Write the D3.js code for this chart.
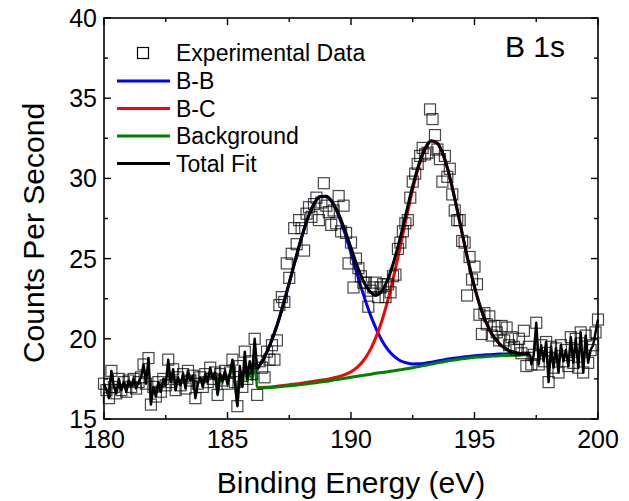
<!DOCTYPE html>
<html>
<head>
<meta charset="utf-8">
<script src="https://cdn.jsdelivr.net/npm/d3@7"></script>
<style>
  body { margin: 0; background: #fff; }
  text { font-family: Arial, "Liberation Sans", sans-serif; fill: #000; }
</style>
</head>
<body>
<svg id="chart" width="629" height="501"></svg>
<script>
// ---------- data ----------
const expE = [
  180.0,180.1,180.2,180.3,180.4,180.5,180.6,180.7,180.8,180.9,
  181.0,181.1,181.2,181.3,181.4,181.5,181.6,181.7,181.8,181.9,
  182.0,182.1,182.2,182.3,182.4,182.5,182.6,182.7,182.8,182.9,
  183.0,183.1,183.2,183.3,183.4,183.5,183.6,183.7,183.8,183.9,
  184.0,184.1,184.2,184.3,184.4,184.5,184.6,184.7,184.8,184.9,
  185.0,185.1,185.2,185.3,185.4,185.5,185.6,185.7,185.8,185.9,
  186.0,186.1,186.2,186.3,186.4,186.5,186.6,186.7,186.8,186.9,
  187.0,187.1,187.2,187.3,187.4,187.5,187.6,187.7,187.8,187.9,
  188.0,188.1,188.2,188.3,188.4,188.5,188.6,188.7,188.8,188.9,
  189.0,189.1,189.2,189.3,189.4,189.5,189.6,189.7,189.8,189.9,
  190.0,190.1,190.2,190.3,190.4,190.5,190.6,190.7,190.8,190.9,
  191.0,191.1,191.2,191.3,191.4,191.5,191.6,191.7,191.8,191.9,
  192.0,192.1,192.2,192.3,192.4,192.5,192.6,192.7,192.8,192.9,
  193.0,193.1,193.2,193.3,193.4,193.5,193.6,193.7,193.8,193.9,
  194.0,194.1,194.2,194.3,194.4,194.5,194.6,194.7,194.8,194.9,
  195.0,195.1,195.2,195.3,195.4,195.5,195.6,195.7,195.8,195.9,
  196.0,196.1,196.2,196.3,196.4,196.5,196.6,196.7,196.8,196.9,
  197.0,197.1,197.2,197.3,197.4,197.5,197.6,197.7,197.8,197.9,
  198.0,198.1,198.2,198.3,198.4,198.5,198.6,198.7,198.8,198.9,
  199.0,199.1,199.2,199.3,199.4,199.5,199.6,199.7,199.8,199.9,
  200.0
];
const expCounts = [
  17.2,16.8,16.3,18.0,17.0,16.6,17.5,16.8,17.3,16.7,
  17.4,17.0,17.5,16.9,17.3,17.6,18.4,17.2,18.8,15.9,
  17.0,16.4,17.3,16.7,17.5,17.1,18.7,17.3,18.1,16.8,
  17.6,17.1,17.8,16.9,18.0,17.4,17.7,16.3,17.2,17.6,
  17.0,17.8,17.3,18.2,17.5,17.9,16.5,17.8,17.4,18.0,
  17.2,17.9,18.7,17.3,15.8,18.3,17.0,19.2,17.5,18.6,
  17.8,20.0,16.5,18.6,18.2,17.6,19.2,18.7,19.6,18.7,
  19.9,22.1,22.6,22.3,24.7,23.8,25.3,26.9,25.9,27.4,
  26.9,25.5,27.8,28.2,27.6,28.4,28.8,27.4,28.5,29.7,
  28.3,27.9,27.1,28.0,27.2,28.9,26.7,28.3,26.6,24.7,
  26.0,23.2,25.0,24.4,23.9,23.5,23.5,22.0,23.0,23.2,
  23.5,22.6,23.2,23.4,22.6,23.4,22.9,23.9,24.0,25.6,
  26.0,26.7,27.2,27.4,28.8,29.8,30.3,30.9,31.4,31.9,
  31.5,31.6,34.3,33.7,32.7,31.8,31.2,29.8,31.4,30.1,
  30.6,29.0,28.0,27.4,27.4,26.1,26.0,22.7,25.1,23.7,
  24.5,23.4,21.5,20.3,21.6,20.9,21.4,20.2,20.8,20.4,
  19.9,20.8,19.9,20.7,19.6,20.1,19.5,19.3,20.0,19.1,
  20.5,18.3,19.5,18.4,19.0,21.0,18.4,19.6,18.6,19.8,
  17.3,19.5,18.2,19.4,17.9,19.6,18.6,19.3,18.3,20.1,
  18.5,20.0,18.2,20.4,17.9,20.2,18.5,19.3,19.6,20.4,
  21.2
];

// fitted curves
const fitE = [
  186.2,186.5,186.75,187.0,187.25,187.5,187.75,188.0,188.25,188.5,
  188.75,189.0,189.25,189.5,189.75,190.0,190.25,190.5,190.75,191.0,
  191.25,191.5,191.75,192.0,192.25,192.5,192.75,193.0,193.25,193.5,
  193.75,194.0,194.25,194.5,194.75,195.0,195.25,195.5,195.75,196.0,
  196.25,196.5,196.75,197.0,197.25
];
const bgFit = [
  16.93,16.95,16.97,17.00,17.04,17.08,17.11,17.15,17.20,17.25,
  17.30,17.35,17.42,17.48,17.54,17.60,17.66,17.72,17.78,17.85,
  17.90,17.95,18.01,18.07,18.13,18.20,18.27,18.35,18.42,18.50,
  18.57,18.65,18.70,18.75,18.80,18.85,18.87,18.90,18.92,18.95,
  18.96,18.97,18.98,19.00,19.00
];
const bbFit = [
  18.11,18.88,19.74,20.81,22.09,23.49,24.94,26.32,27.52,28.40,
  28.86,28.87,28.47,27.68,26.60,25.35,24.04,22.77,21.64,20.68,
  19.90,19.31,18.90,18.63,18.50,18.43,18.44,18.48,18.54,18.61,
  18.68,18.75,18.80,18.85,18.90,18.95,18.97,19.00,19.02,19.05,
  19.06,19.07,19.08,19.10,19.10
];
const bcFit = [
  16.95,16.98,17.00,17.04,17.09,17.14,17.18,17.23,17.29,17.35,
  17.41,17.47,17.55,17.64,17.77,17.95,18.22,18.63,19.23,20.06,
  21.13,22.46,24.05,25.80,27.61,29.33,30.78,31.82,32.32,32.18,
  31.39,30.08,28.40,26.58,24.81,23.24,21.92,20.92,20.19,19.71,
  19.39,19.20,19.10,19.06,19.03
];
const totalFit = [
  18.11,18.88,19.74,20.81,22.09,23.49,24.94,26.32,27.52,28.40,
  28.87,28.89,28.52,27.77,26.78,25.67,24.55,23.60,22.98,22.72,
  22.98,23.75,24.90,26.34,27.95,29.53,30.89,31.88,32.35,32.19,
  31.39,30.08,28.40,26.58,24.81,23.24,21.92,20.92,20.19,19.71,
  19.39,19.20,19.10,19.06,19.03
];

// background trace before the fit window
const bgNoiseE = [184.4,184.5,184.6,184.7,184.8,184.9,185.0,185.1,185.2,185.3,
                  185.4,185.5,185.6,185.7,185.8,185.9,186.0,186.1];
const bgNoise  = [17.5,17.7,16.5,17.6,17.3,17.8,17.2,17.7,18.2,17.2,
                  15.8,17.8,17.0,18.3,17.3,18.0,17.4,18.5];

const xTicks = [180, 185, 190, 195, 200];
const xMinor = [182.5, 187.5, 192.5, 197.5];
const yTicks = [15, 20, 25, 30, 35, 40];
const yMinor = [17.5, 22.5, 27.5, 32.5, 37.5];

const legendItems = [
  {label: "B-B", color: "#0000ff"},
  {label: "B-C", color: "#ff0000"},
  {label: "Background", color: "#008000"},
  {label: "Total Fit", color: "#000000"}
];

// ---------- layout ----------
const L = 104, R = 598, T = 18, B = 419;
const svg = d3.select("#chart");

const x = d3.scaleLinear().domain([180, 200]).range([L, R]);
const y = d3.scaleLinear().domain([15, 40]).range([B, T]);

const pts = (xs, ys) => xs.map((v, i) => [v, ys[i]]);
const line = d3.line().x(d => x(d[0])).y(d => y(d[1]));
const smooth = d3.line().x(d => x(d[0])).y(d => y(d[1])).curve(d3.curveMonotoneX);

const plot = svg.append("g");

// component peaks first, background drawn over them
plot.append("path").attr("d", smooth(pts(fitE, bbFit)))
  .attr("fill", "none").attr("stroke", "#0000ff").attr("stroke-width", 3);
plot.append("path").attr("d", smooth(pts(fitE, bcFit)))
  .attr("fill", "none").attr("stroke", "#ff0000").attr("stroke-width", 3);

const bgPts = pts(bgNoiseE, bgNoise).concat(pts(fitE, bgFit));
plot.append("path").attr("d", line(bgPts.slice(0, bgNoiseE.length + 1)))
  .attr("fill", "none").attr("stroke", "#008000").attr("stroke-width", 2.5);
plot.append("path").attr("d", smooth(pts(fitE, bgFit)))
  .attr("fill", "none").attr("stroke", "#008000").attr("stroke-width", 3);

// total fit: data traces outside the window, fitted curve inside
const allExp = pts(expE, expCounts);
const leftTrace = allExp.filter(d => d[0] <= 186.1).concat([[fitE[0], totalFit[0]]]);
const rightTrace = [[fitE[fitE.length - 1], totalFit[totalFit.length - 1]]]
  .concat(allExp.filter(d => d[0] >= 197.3));

[leftTrace, rightTrace].forEach(tr => {
  plot.append("path").attr("d", line(tr))
    .attr("fill", "none").attr("stroke", "#000").attr("stroke-width", 2.5)
    .attr("stroke-linejoin", "round");
});
plot.append("path").attr("d", smooth(pts(fitE, totalFit)))
  .attr("fill", "none").attr("stroke", "#000").attr("stroke-width", 3);

// experimental squares
const sq = 11;
plot.selectAll("rect.pt").data(allExp).enter().append("rect")
  .attr("class", "pt")
  .attr("x", d => x(d[0]) - sq / 2).attr("y", d => y(d[1]) - sq / 2)
  .attr("width", sq).attr("height", sq)
  .attr("fill", "none").attr("stroke", "#000").attr("stroke-opacity", 0.72)
  .attr("stroke-width", 1.2);

// ---------- frame & ticks ----------
svg.append("rect").attr("x", L).attr("y", T).attr("width", R - L).attr("height", B - T)
  .attr("fill", "none").attr("stroke", "#000").attr("stroke-width", 1.6);

const major = 7, minor = 4;
const tk = svg.append("g").attr("stroke", "#000").attr("stroke-width", 1.4);
xTicks.forEach(v => {
  tk.append("line").attr("x1", x(v)).attr("x2", x(v)).attr("y1", B).attr("y2", B - major);
  tk.append("line").attr("x1", x(v)).attr("x2", x(v)).attr("y1", T).attr("y2", T + major);
});
xMinor.forEach(v => {
  tk.append("line").attr("x1", x(v)).attr("x2", x(v)).attr("y1", B).attr("y2", B - minor);
  tk.append("line").attr("x1", x(v)).attr("x2", x(v)).attr("y1", T).attr("y2", T + minor);
});
yTicks.forEach(v => {
  tk.append("line").attr("x1", L).attr("x2", L + major).attr("y1", y(v)).attr("y2", y(v));
  tk.append("line").attr("x1", R).attr("x2", R - major).attr("y1", y(v)).attr("y2", y(v));
});
yMinor.forEach(v => {
  tk.append("line").attr("x1", L).attr("x2", L + minor).attr("y1", y(v)).attr("y2", y(v));
  tk.append("line").attr("x1", R).attr("x2", R - minor).attr("y1", y(v)).attr("y2", y(v));
});

// tick labels
svg.selectAll("text.xt").data(xTicks).enter().append("text")
  .attr("x", d => x(d)).attr("y", 448).attr("text-anchor", "middle")
  .style("font-size", "25px").text(d => d);
svg.selectAll("text.yt").data(yTicks).enter().append("text")
  .attr("x", 97).attr("y", d => y(d) + 9).attr("text-anchor", "end")
  .style("font-size", "25px").text(d => d);

// axis titles
svg.append("text").attr("x", (L + R) / 2).attr("y", 493).attr("text-anchor", "middle")
  .style("font-size", "30px").text("Binding Energy (eV)");
svg.append("text").attr("transform", "translate(44,233) rotate(-90)")
  .attr("text-anchor", "middle").style("font-size", "30px").text("Counts Per Second");

// panel label
svg.append("text").attr("x", 505).attr("y", 57).style("font-size", "30px").text("B 1s");

// ---------- legend ----------
svg.append("rect").attr("x", 143 - sq / 2).attr("y", 53 - sq / 2)
  .attr("width", sq).attr("height", sq)
  .attr("fill", "none").attr("stroke", "#000").attr("stroke-width", 1.2);
svg.append("text").attr("x", 176).attr("y", 61).style("font-size", "23px").text("Experimental Data");

legendItems.forEach((it, i) => {
  const ly = 81 + i * 27.5;
  svg.append("line").attr("x1", 117).attr("x2", 170).attr("y1", ly).attr("y2", ly)
    .attr("stroke", it.color).attr("stroke-width", 3);
  svg.append("text").attr("x", 176).attr("y", ly + 8).style("font-size", "23px").text(it.label);
});
</script>
</body>
</html>
